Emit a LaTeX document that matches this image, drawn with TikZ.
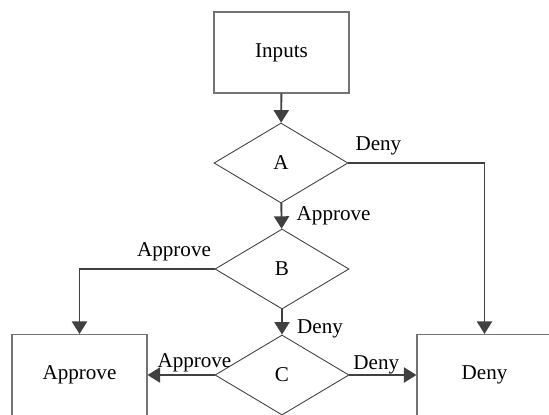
\documentclass[tikz,border=0pt]{standalone}
\usepackage{fontspec}
\setmainfont{Liberation Serif}
\usepackage{tikz}
\usetikzlibrary{arrows.meta,positioning,shapes.geometric}

\begin{document}
\begin{tikzpicture}[
    box/.style={draw=black!55, line width=0.6pt, minimum width=2.7cm, minimum height=1.62cm, align=center, font=\fontsize{12}{14}\selectfont},
    test/.style={draw=black!75, line width=0.5pt, diamond, inner sep=0pt, minimum width=2.68cm, minimum height=1.6cm, font=\fontsize{12}{14}\selectfont},
    arr/.style={-{Triangle[length=0.25cm, width=0.3cm]}, draw=black!75, line width=1.1pt},
    lbl/.style={font=\fontsize{12}{14}\selectfont, inner sep=1pt}
]
\useasboundingbox (0,0) rectangle (10.98,-8.28);
\node[box] (in) at (5.63,-1.05) {Inputs};
\node[test] (a) at (5.62,-3.26) {A};
\node[test] (b) at (5.64,-5.38) {B};
\node[test] (c) at (5.64,-7.5) {C};
\node[box] (ok) at (1.59,-7.5) {Approve};
\node[box] (no) at (9.69,-7.5) {Deny};
\draw[arr] (in) -- (a);
\draw[arr] (a) -- node[lbl, right=0.25cm] {Approve} (b);
\draw[arr] (b) -- node[lbl, right=0.25cm, yshift=-4pt] {Deny} (c);
\draw[arr] (a.east) -| node[lbl, pos=0.11, above=3pt] {Deny} (no.north);
\draw[arr] (b.west) -| node[lbl, pos=0.15, above=3pt] {Approve} (ok.north);
\draw[arr] (c.west) -- node[lbl, pos=0.3, above] {Approve} (ok.east);
\draw[arr] (c.east) -- node[lbl, pos=0.4, above=-1pt] {Deny} (no.west);
\end{tikzpicture}
\end{document}
